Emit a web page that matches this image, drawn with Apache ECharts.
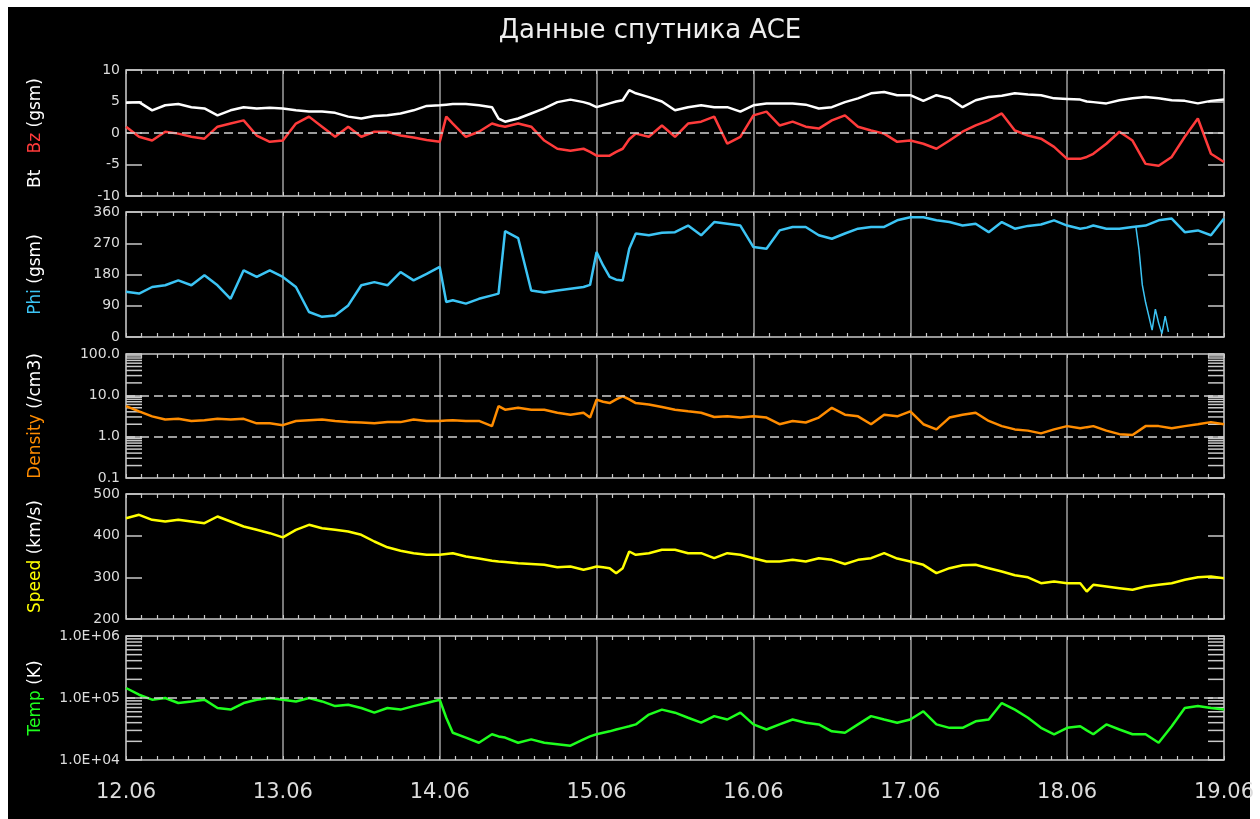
<!DOCTYPE html>
<html>
<head>
<meta charset="utf-8">
<title>ACE</title>
<script src="https://cdn.jsdelivr.net/npm/echarts@6.0.0/dist/echarts.min.js"></script>
<style>
body{margin:0;background:#fff;}
#back{position:absolute;left:8px;top:7px;width:1242px;height:812px;background:#000;}
#main{position:absolute;left:0;top:0;width:1260px;height:819px;}
</style>
</head>
<body>
<div id="back"></div>
<div id="main"></div>
<script>
/* время в часах от 12.06 00:00 */
var HOURS = [0,2,4,6,8,10,12,14,16,18,20,22,
    24,26,28,30,32,34,36,38,40,42,44,46,
    48,49,50,52,54,56,57,58,60,62,64,66,68,70,71,
    72,73,74,75,76,77,78,80,82,84,86,88,90,92,94,
    96,98,100,102,104,106,108,110,112,114,116,118,
    120,122,124,126,128,130,132,134,136,138,140,142,
    144,146,147,148,150,152,154,156,158,160,162,164,166,
    168];

var BT = [4.8,4.9,3.6,4.4,4.6,4.1,3.9,2.8,3.6,4.1,3.9,4.0,
    3.9,3.6,3.4,3.4,3.2,2.6,2.3,2.7,2.8,3.1,3.6,4.3,
    4.4,4.5,4.6,4.6,4.4,4.1,2.3,1.8,2.3,3.1,3.9,4.9,5.3,4.9,4.6,
    4.1,4.4,4.7,5.0,5.2,6.8,6.3,5.7,5.0,3.6,4.1,4.4,4.1,4.1,3.4,
    4.4,4.7,4.7,4.7,4.5,3.9,4.1,4.9,5.5,6.3,6.5,6.0,
    6.0,5.1,6.0,5.5,4.1,5.2,5.7,5.9,6.3,6.1,6.0,5.5,
    5.4,5.3,5.0,4.9,4.7,5.2,5.5,5.7,5.5,5.2,5.1,4.7,5.1,
    5.3];

var BZ = [1.0,-0.6,-1.2,0.2,-0.1,-0.6,-0.9,1.0,1.5,2.0,-0.4,-1.4,
    -1.2,1.5,2.6,1.0,-0.6,1.0,-0.6,0.2,0.2,-0.4,-0.7,-1.1,
    -1.4,2.6,1.5,-0.6,0.2,1.5,1.2,1.0,1.5,1.0,-1.2,-2.5,-2.8,-2.5,-3.0,
    -3.6,-3.6,-3.6,-3.0,-2.5,-1.0,-0.1,-0.6,1.2,-0.6,1.5,1.8,2.6,-1.7,-0.6,
    2.8,3.4,1.2,1.8,1.0,0.7,2.0,2.8,1.0,0.4,-0.1,-1.4,
    -1.2,-1.7,-2.5,-1.2,0.2,1.2,2.0,3.1,0.4,-0.4,-0.9,-2.2,
    -4.1,-4.1,-3.8,-3.3,-1.7,0.2,-1.2,-4.9,-5.2,-3.8,-0.6,2.3,-3.3,
    -4.6];

var PHI = [130,125,144,149,163,149,178,149,110,192,173,192,
    173,144,72,58,62,91,149,158,149,187,163,182,
    202,101,106,96,110,120,125,305,285,134,128,134,139,144,150,
    245,206,173,165,163,254,298,293,300,302,321,293,331,326,321,
    259,254,307,317,317,293,283,298,312,317,317,336,
    345,345,336,331,321,326,302,331,312,320,324,336,
    321,312,315,321,312,312,317,321,336,341,302,307,293,
    341];

/* провал Phi 18.06 */
var PHI_DIP_HOURS = [154.5,155,155.5,156,156.5,157,157.5,158,158.5,159,159.5];
var PHI_DIP = [320,250,150,100,60,20,80,40,10,60,15];

var DENSITY = [5.5,4.1,3.1,2.6,2.7,2.4,2.5,2.7,2.6,2.7,2.1,2.1,
    1.9,2.4,2.5,2.6,2.4,2.25,2.2,2.1,2.25,2.25,2.6,2.4,
    2.4,2.45,2.5,2.4,2.4,1.8,5.5,4.5,5.0,4.5,4.5,3.8,3.4,3.8,2.9,
    7.9,7.0,6.5,8.0,9.5,8.0,6.5,6.0,5.2,4.5,4.1,3.8,3.0,3.1,2.9,
    3.1,2.9,2.0,2.4,2.2,2.9,5.0,3.4,3.1,2.0,3.4,3.1,
    4.1,2.0,1.5,2.9,3.4,3.8,2.4,1.8,1.5,1.4,1.2,1.5,
    1.8,1.6,1.7,1.8,1.4,1.15,1.1,1.8,1.8,1.6,1.8,2.0,2.25,
    2.0];

var SPEED = [442,450,438,434,438,434,430,446,434,422,414,406,
    396,414,426,418,414,410,402,386,372,364,358,354,
    354,356,358,350,345,340,338,337,334,332,330,324,326,318,322,
    326,324,322,310,322,362,354,358,366,366,358,358,346,358,354,
    346,338,338,342,338,346,342,332,342,346,358,345,
    338,330,310,322,329,330,322,314,305,300,286,290,
    286,286,266,282,278,274,270,278,282,286,294,300,302,
    298];

var TEMP = [145000,113000,94000,100000,83000,88000,94000,69000,65000,83000,94000,100000,
    94000,88000,100000,88000,74000,78000,69000,58000,69000,65000,74000,83000,
    94000,48000,27500,23000,19000,26000,24000,23000,19000,21500,19000,18000,17000,21500,24000,
    26000,27500,29000,31000,33000,35000,37500,54000,65000,58000,48000,40000,51000,45000,58000,
    37500,31000,37500,45000,40000,37500,29000,27500,37500,51000,45000,40000,
    45000,61000,37500,33000,33000,42000,45000,83000,65000,48000,33000,26000,
    33000,35000,30000,26000,37500,31000,26000,26000,19000,35000,69000,74000,69000,
    65000];

var DAY_LABELS = ['12.06','13.06','14.06','15.06','16.06','17.06','18.06','19.06'];

var FONT = 'DejaVu Sans';
var FRAME = '#c8c8c8';
var TEXT = '#dcdcdc';

var tops = [70, 212, 354, 494, 636];
var heights = [126, 125, 124, 125, 124];

var RICH = {
    w: {color:'#ffffff', fontSize:17, fontFamily:FONT},
    r: {color:'#ff3b3b', fontSize:17, fontFamily:FONT},
    c: {color:'#3cc4f4', fontSize:17, fontFamily:FONT},
    o: {color:'#ff8c00', fontSize:17, fontFamily:FONT},
    y: {color:'#ffff00', fontSize:17, fontFamily:FONT},
    g: {color:'#1eff1e', fontSize:17, fontFamily:FONT}
};

var panels = [
    {type:'value', min:-10, max:10, interval:5, name:'{w|Bt}   {r|Bz} {w|(gsm)}'},
    {type:'value', min:0, max:360, interval:90, name:'{c|Phi} {w|(gsm)}'},
    {type:'log', min:0.1, max:100, name:'{o|Density} {w|(/cm3)}',
        fmt:function(v){ return v.toFixed(1); }},
    {type:'value', min:200, max:500, interval:100, name:'{y|Speed} {w|(km/s)}'},
    {type:'log', min:1e4, max:1e6, name:'{g|Temp} {w|(K)}',
        fmt:function(v){ return '1.0E+0' + Math.round(Math.log10(v)); }}
];

function pairs(xs, ys){
    var out = [];
    for(var i = 0; i < xs.length; i++){ out.push([xs[i], ys[i]]); }
    return out;
}

function dashed(values){
    return {
        symbol:'none', silent:true, animation:false,
        label:{show:false},
        lineStyle:{color:'#d0d0d0', type:[9,5], width:1.5},
        data: values.map(function(v){ return {yAxis:v}; })
    };
}

function lineSeries(gi, xs, ys, color, width, extra){
    var s = {
        type:'line', xAxisIndex:2*gi, yAxisIndex:2*gi,
        data:pairs(xs, ys), showSymbol:false, symbol:'none',
        lineStyle:{color:color, width:width}, itemStyle:{color:color},
        animation:false, silent:true
    };
    if(extra){ s.markLine = extra; }
    return s;
}

/* малые деления логарифмической оси, слева и справа */
function minorLogTicks(gi, decades){
    var data = [];
    decades.forEach(function(d){
        [2,3,4,5,6,7,8,9].forEach(function(k){ data.push([0, k*Math.pow(10, d)]); });
    });
    return {
        type:'custom', xAxisIndex:2*gi, yAxisIndex:2*gi, silent:true, animation:false,
        data:data, z:1,
        renderItem:function(params, api){
            var p = api.coord([0, api.value(1)]);
            var cs = params.coordSys;
            return {type:'group', children:[
                {type:'line', shape:{x1:cs.x, y1:p[1], x2:cs.x+16, y2:p[1]},
                    style:{stroke:FRAME, lineWidth:1.5}},
                {type:'line', shape:{x1:cs.x+cs.width-16, y1:p[1], x2:cs.x+cs.width, y2:p[1]},
                    style:{stroke:FRAME, lineWidth:1.5}}
            ]};
        }
    };
}

var grids = [], xAxes = [], yAxes = [];
panels.forEach(function(p, i){
    grids.push({left:126, right:36, top:tops[i], height:heights[i], show:true,
        borderColor:FRAME, borderWidth:1.5, backgroundColor:'transparent'});
    var xBase = {
        gridIndex:i, type:'value', min:0, max:168, interval:24,
        axisLine:{show:false, onZero:false},
        axisTick:{show:true, inside:true, length:4, lineStyle:{color:FRAME}},
        minorTick:{show:true, splitNumber:10, length:4, lineStyle:{color:FRAME, width:1.2}}
    };
    xAxes.push(Object.assign({}, xBase, {
        position:'bottom',
        splitLine:{show:true, lineStyle:{color:'#a0a0a0', width:1.5}},
        axisLabel:{show:i === 4, color:TEXT, fontSize:21, margin:22, fontFamily:FONT,
            formatter:function(v){ return DAY_LABELS[Math.round(v/24)]; }}
    }));
    xAxes.push(Object.assign({}, xBase, {
        position:'top', splitLine:{show:false}, axisLabel:{show:false}
    }));
    var yBase = {
        gridIndex:i, type:p.type, min:p.min, max:p.max,
        axisLine:{show:false, onZero:false},
        axisTick:{show:true, inside:true, length:16, lineStyle:{color:FRAME, width:1.5}},
        splitLine:{show:false}
    };
    if(p.interval){ yBase.interval = p.interval; }
    if(p.type === 'log'){ yBase.logBase = 10; }
    var label = {color:TEXT, fontSize:14, margin:6, fontFamily:FONT};
    if(p.fmt){ label.formatter = p.fmt; }
    yAxes.push(Object.assign({}, yBase, {
        position:'left', axisLabel:label,
        name:p.name, nameLocation:'middle', nameGap:82, nameRotate:90,
        nameTextStyle:{rich:RICH, fontFamily:FONT, fontSize:17}
    }));
    yAxes.push(Object.assign({}, yBase, {position:'right', axisLabel:{show:false}}));
});

var series = [
    lineSeries(0, HOURS, BZ, '#ff3b3b', 2.5),
    lineSeries(0, HOURS, BT, '#ffffff', 2.5, dashed([0])),
    lineSeries(1, HOURS, PHI, '#3cc4f4', 2.5),
    lineSeries(1, PHI_DIP_HOURS, PHI_DIP, '#3cc4f4', 1.5),
    minorLogTicks(2, [-1, 0, 1]),
    lineSeries(2, HOURS, DENSITY, '#ff8c00', 2.5, dashed([1, 10])),
    lineSeries(3, HOURS, SPEED, '#ffff00', 2.5),
    minorLogTicks(4, [4, 5]),
    lineSeries(4, HOURS, TEMP, '#1eff1e', 2.5, dashed([1e5]))
];

var chart = echarts.init(document.getElementById('main'));
chart.setOption({
    backgroundColor:'transparent',
    animation:false,
    textStyle:{fontFamily:FONT},
    grid:grids,
    xAxis:xAxes,
    yAxis:yAxes,
    series:series,
    graphic:[{
        type:'text', silent:true,
        style:{text:'Данные спутника ACE', x:650, y:31, align:'center', verticalAlign:'middle',
            fill:'#eeeeee', fontSize:26, fontFamily:FONT}
    }]
});
</script>
</body>
</html>
